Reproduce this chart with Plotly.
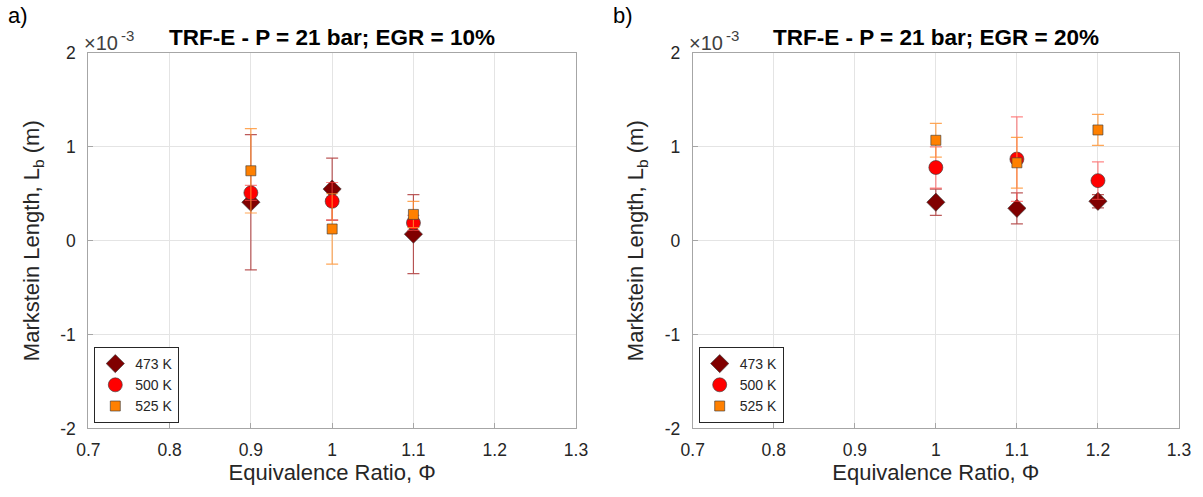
import plotly.graph_objects as go

# Equivalence ratios tested in each campaign
phi_egr10 = [0.9, 1.0, 1.1]
phi_egr20 = [1.0, 1.1, 1.2]

temps = ["473 K", "500 K", "525 K"]

# Markstein length L_b (m) and its uncertainty, EGR = 10 %
lb_egr10 = {
    "473 K": [0.41e-3, 0.55e-3, 0.07e-3],
    "500 K": [0.51e-3, 0.42e-3, 0.19e-3],
    "525 K": [0.745e-3, 0.125e-3, 0.28e-3],
}
err_egr10 = {
    "473 K": [0.72e-3, 0.33e-3, 0.42e-3],
    "500 K": [0.08e-3, 0.20e-3, 0.08e-3],
    "525 K": [0.45e-3, 0.375e-3, 0.14e-3],
}

# Markstein length L_b (m) and its uncertainty, EGR = 20 %
lb_egr20 = {
    "473 K": [0.41e-3, 0.345e-3, 0.42e-3],
    "500 K": [0.78e-3, 0.87e-3, 0.64e-3],
    "525 K": [1.07e-3, 0.83e-3, 1.18e-3],
}
err_egr20 = {
    "473 K": [0.14e-3, 0.165e-3, 0.07e-3],
    "500 K": [0.22e-3, 0.45e-3, 0.20e-3],
    "525 K": [0.18e-3, 0.27e-3, 0.165e-3],
}

x_ticks = [0.7, 0.8, 0.9, 1.0, 1.1, 1.2, 1.3]
x_ticklabels = ["0.7", "0.8", "0.9", "1", "1.1", "1.2", "1.3"]
y_ticks = [-2e-3, -1e-3, 0, 1e-3, 2e-3]
y_ticklabels = ["-2", "-1", "0", "1", "2"]

titles = ["TRF-E - P = 21 bar; EGR = 10%", "TRF-E - P = 21 bar; EGR = 20%"]
panel_tags = ["a)", "b)"]

style = {
    "473 K": dict(symbol="diamond", size=14, color="#800000",
                  err="rgba(165,35,35,0.75)"),
    "500 K": dict(symbol="circle", size=14, color="#ff0000",
                  err="rgba(255,70,70,0.65)"),
    "525 K": dict(symbol="square", size=10, color="#ff8000",
                  err="rgba(255,145,45,0.8)"),
}

FONT = "Liberation Sans, Arial, sans-serif"
W, H = 1203, 497

fig = go.Figure()

panels = [
    (phi_egr10, lb_egr10, err_egr10, "x", "y", "legend"),
    (phi_egr20, lb_egr20, err_egr20, "x2", "y2", "legend2"),
]
for phi, lb, err, xa, ya, lg in panels:
    for t in temps:
        s = style[t]
        fig.add_trace(go.Scatter(
            x=phi, y=lb[t], mode="markers", name=t,
            xaxis=xa, yaxis=ya, legend=lg,
            marker=dict(symbol=s["symbol"], size=s["size"], color=s["color"],
                        line=dict(color="rgba(60,60,60,0.8)", width=0.8)),
            error_y=dict(type="data", array=err[t], visible=True,
                         color=s["err"], thickness=1.2, width=6),
        ))

# axes geometry (pixels)
left_px = [(88.3, 576.0), (692.7, 1179.0)]
top_px, bottom_px = 53.0, 428.4
ydom = [1 - bottom_px / H, 1 - top_px / H]

axis_common = dict(
    showgrid=True, gridcolor="#e4e4e4", gridwidth=1,
    showline=True, linecolor="#a6a6a6", linewidth=1, mirror=True,
    ticks="inside", ticklen=5, tickcolor="#a6a6a6",
    tickfont=dict(family=FONT, size=17.5, color="#262626"),
    zeroline=False, automargin=False,
)

layout = dict(
    width=W, height=H,
    margin=dict(l=0, r=0, t=0, b=0, autoexpand=False),
    paper_bgcolor="white", plot_bgcolor="white",
    font=dict(family=FONT, color="#262626"),
)

annotations = []
for i, (x0, x1) in enumerate(left_px):
    sfx = "" if i == 0 else str(i + 1)
    layout["xaxis" + sfx] = dict(
        axis_common, domain=[x0 / W, x1 / W], range=[0.7, 1.3],
        tickvals=x_ticks, ticktext=x_ticklabels, anchor="y" + sfx,
        ticklabelstandoff=6,
        title=dict(text="Equivalence Ratio, Φ", standoff=5,
                   font=dict(family=FONT, size=22, color="#262626")),
    )
    layout["yaxis" + sfx] = dict(
        axis_common, domain=ydom, range=[-2e-3, 2e-3],
        tickvals=y_ticks, ticktext=y_ticklabels, anchor="x" + sfx,
        ticklabelstandoff=8,
        title=dict(text="Markstein Length, L<sub>b</sub> (m)", standoff=14,
                   font=dict(family=FONT, size=22, color="#262626")),
    )
    # plot title
    annotations.append(dict(
        text="<b>" + titles[i] + "</b>", xref="paper", yref="paper",
        x=(x0 + x1) / 2 / W, y=1 - 37 / H, xanchor="center", yanchor="middle",
        showarrow=False, font=dict(family=FONT, size=22.5, color="black"),
    ))
    # exponent multiplier of the y axis
    annotations.append(dict(
        text="×10", xref="paper", yref="paper",
        x=(x0 - 6) / W, y=1 - 43 / H, xanchor="left", yanchor="middle",
        showarrow=False, font=dict(family=FONT, size=20, color="#404040"),
    ))
    annotations.append(dict(
        text="-3", xref="paper", yref="paper",
        x=(x0 + 31) / W, y=1 - 35 / H, xanchor="left", yanchor="middle",
        showarrow=False, font=dict(family=FONT, size=15, color="#404040"),
    ))
    # panel tag
    annotations.append(dict(
        text=panel_tags[i], xref="paper", yref="paper",
        x=(x0 - 70) / W, y=1 - 16 / H, xanchor="center", yanchor="middle",
        showarrow=False, font=dict(family=FONT, size=22, color="black"),
    ))
    # legend box
    key = "legend" if i == 0 else "legend2"
    layout[key] = dict(
        x=(x0 + 6) / W, y=1 - 347 / H, xanchor="left", yanchor="top",
        bgcolor="white", bordercolor="#262626", borderwidth=1,
        font=dict(family=FONT, size=14, color="#262626"),
        itemsizing="trace", tracegroupgap=0,
    )

layout["annotations"] = annotations
layout["showlegend"] = True
fig.update_layout(**layout)

fig.write_html("out.html")
